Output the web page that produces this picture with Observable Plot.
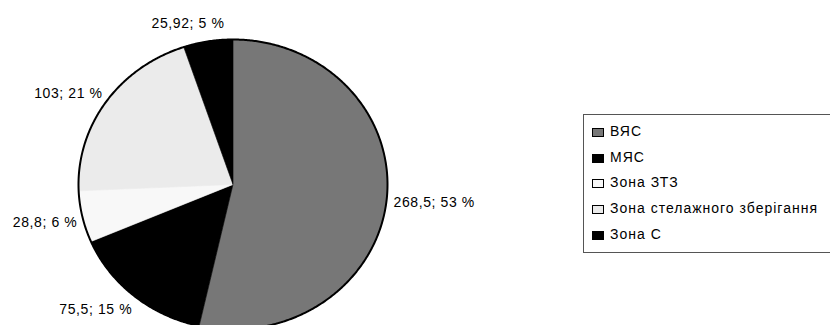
<!DOCTYPE html>
<html>
<head>
<meta charset="utf-8">
<script src="https://cdn.jsdelivr.net/npm/d3@7"></script>
<script src="https://cdn.jsdelivr.net/npm/@observablehq/plot@0.6"></script>
<style>
  body { margin: 0; background: #fff; font-family: "Liberation Sans", Arial, sans-serif; }
  #wrap { position: relative; width: 830px; height: 325px; overflow: hidden; }
  #wrap svg { position: absolute; left: 0; top: 0; }
  .legend { position: absolute; left: 583px; top: 114px; width: 270px; height: 139px;
            border: 1px solid #555; box-sizing: border-box; background: #fff; }
  .item { position: absolute; left: 8px; height: 16px; display: flex; align-items: center;
          font-size: 14px; letter-spacing: 1px; color: #000; white-space: nowrap; }
  .sw { width: 10px; height: 7px; border: 1.5px solid #000; margin-right: 6px; margin-top: 3px; }
</style>
</head>
<body>
<div id="wrap"></div>
<script>
// Warehouse zones: area and share
const names = ["ВЯС", "МЯС", "Зона ЗТЗ", "Зона стелажного зберігання", "Зона С"];
const values = [268.5, 75.5, 28.8, 103, 25.92];
const valueLabels = ["268,5", "75,5", "28,8", "103", "25,92"];
const percentLabels = ["53", "15", "6", "21", "5"];
const colors = ["#777777", "#000000", "#f8f8f8", "#ebebeb", "#000000"];

// label placement next to the rim (anchor side and pixel nudge)
const labelStyle = [
  {anchor: "start", dx: 7, dy: 2},
  {anchor: "end", dx: -2, dy: 14},
  {anchor: "end", dx: -5, dy: 6},
  {anchor: "end", dx: -3, dy: -9},
  {anchor: "middle", dx: -20, dy: -18}
];

// slices start at 12 o'clock and run clockwise; unit coordinates, y pointing down
const arcs = d3.pie().sort(null).value(d => d)(values);
const step = Math.PI / 360;
const arcPoints = (a0, a1) => {
  const n = Math.max(2, Math.ceil((a1 - a0) / step) + 1);
  return d3.range(n).map(i => {
    const a = a0 + (a1 - a0) * i / (n - 1);
    return {x: Math.sin(a), y: -Math.cos(a)};
  });
};

const slices = arcs.map((arc, i) => ({
  color: colors[i],
  pts: [{x: 0, y: 0}, ...arcPoints(arc.startAngle, arc.endAngle), {x: 0, y: 0}]
}));
const rim = arcPoints(0, 2 * Math.PI);

const labels = arcs.map((arc, i) => {
  const mid = (arc.startAngle + arc.endAngle) / 2;
  return {x: Math.sin(mid), y: -Math.cos(mid), text: `${valueLabels[i]}; ${percentLabels[i]} %`, ...labelStyle[i]};
});

const chart = Plot.plot({
  width: 830,
  height: 325,
  margin: 0,
  style: {fontFamily: '"Liberation Sans", Arial, sans-serif', fontSize: "14px", letterSpacing: "0.6px", background: "transparent", overflow: "visible"},
  x: {domain: [-1, 1], range: [78, 387], axis: null},
  y: {domain: [-1, 1], range: [39, 329], axis: null},
  marks: [
    ...slices.map(s => Plot.line(s.pts, {x: "x", y: "y", fill: s.color, stroke: s.color, strokeWidth: 0.6, curve: "linear"})),
    Plot.line(rim, {x: "x", y: "y", stroke: "#000", strokeWidth: 2}),
    ...labels.map(l => Plot.text([l], {x: "x", y: "y", text: "text", textAnchor: l.anchor, dx: l.dx, dy: l.dy, fill: "#000", fontSize: 14}))
  ]
});

const wrap = document.getElementById("wrap");
wrap.appendChild(chart);

// legend box on the right
const legend = document.createElement("div");
legend.className = "legend";
names.forEach((name, i) => {
  const item = document.createElement("div");
  item.className = "item";
  item.style.top = (8 + i * 25.7) + "px";
  const sw = document.createElement("span");
  sw.className = "sw";
  sw.style.background = colors[i];
  const label = document.createElement("span");
  label.textContent = name;
  item.appendChild(sw);
  item.appendChild(label);
  legend.appendChild(item);
});
wrap.appendChild(legend);
</script>
</body>
</html>
